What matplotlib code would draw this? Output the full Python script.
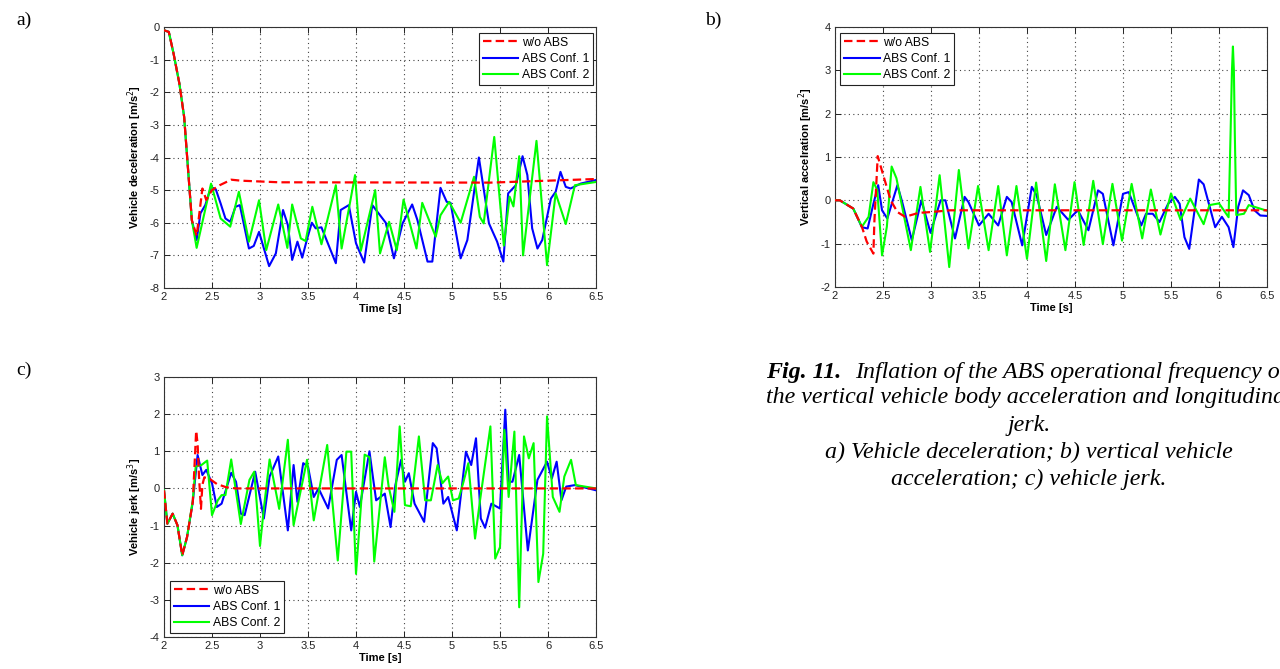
import matplotlib
matplotlib.use("Agg")
import matplotlib.pyplot as plt

plt.rcParams['font.family'] = ['Liberation Sans', 'DejaVu Sans']
plt.rcParams['axes.unicode_minus'] = False

# ---------------- data ----------------
# panel a: vehicle deceleration
ta_red = [2.0, 2.05, 2.10, 2.16, 2.21, 2.29, 2.34, 2.40, 2.44, 2.50, 2.58, 2.70, 2.80, 3.2, 5.4, 6.5]
ya_red = [-0.1, -0.15, -0.82, -1.73, -2.76, -5.92, -6.4, -4.95, -5.3, -5.0, -4.85, -4.68, -4.71, -4.76, -4.77, -4.66]

ta_blue = [2.0, 2.05, 2.10, 2.16, 2.21, 2.29, 2.34, 2.38, 2.43, 2.49, 2.54, 2.59, 2.64, 2.69, 2.745,
           2.79, 2.885, 2.935, 2.99, 3.095, 3.165, 3.24, 3.29, 3.335, 3.39, 3.44, 3.49, 3.54, 3.58, 3.64,
           3.79, 3.84, 3.925, 4.0, 4.085, 4.17, 4.31, 4.395, 4.485, 4.585, 4.64, 4.745, 4.795, 4.88, 4.945,
           4.985, 5.09, 5.16, 5.28, 5.385, 5.47, 5.535, 5.585, 5.665, 5.735, 5.785, 5.835, 5.89, 5.94, 6.03,
           6.08, 6.13, 6.185, 6.235, 6.34, 6.5]
ya_blue = [-0.1, -0.15, -0.82, -1.73, -2.76, -5.92, -6.53, -5.71, -5.46, -4.90, -4.98, -5.41, -5.87, -5.97, -5.51,
           -5.46, -6.79, -6.71, -6.28, -7.33, -6.94, -5.61, -6.07, -7.14, -6.58, -7.07, -6.5, -6.0, -6.17, -6.14,
           -7.24, -5.61, -5.46, -6.63, -7.22, -5.46, -6.0, -7.09, -6.02, -5.44, -5.92, -7.19, -7.19, -4.93, -5.36,
           -5.39, -7.09, -6.53, -4.0, -6.02, -6.58, -7.19, -5.10, -4.85, -3.96, -4.54, -6.17, -6.79, -6.53, -5.26,
           -5.05, -4.44, -4.90, -4.95, -4.80, -4.69]

ta_green = [2.0, 2.05, 2.10, 2.16, 2.21, 2.29, 2.34, 2.49, 2.59, 2.69, 2.78, 2.885, 2.99, 3.065, 3.19,
            3.285, 3.335, 3.425, 3.475, 3.545, 3.64, 3.79, 3.85, 3.99, 4.05, 4.20, 4.25, 4.345, 4.425, 4.495,
            4.63, 4.69, 4.83, 4.88, 4.97, 5.09, 5.23, 5.29, 5.33, 5.44, 5.54, 5.60, 5.64, 5.70, 5.74,
            5.88, 5.99, 6.08, 6.185, 6.28, 6.5]
ya_green = [-0.1, -0.15, -0.82, -1.73, -2.76, -5.92, -6.77, -4.80, -5.87, -6.12, -5.05, -6.58, -5.31, -6.84, -5.44,
            -6.77, -5.44, -6.48, -6.56, -5.51, -6.66, -4.85, -6.79, -4.54, -6.86, -5.0, -6.94, -5.97, -6.84, -5.29,
            -6.79, -5.39, -6.43, -5.77, -5.36, -6.0, -4.59, -5.82, -6.02, -3.37, -6.70, -5.2, -5.5, -3.96, -7.0,
            -3.49, -7.30, -5.10, -6.04, -4.85, -4.75]

# panel b: vertical acceleration
tb_red = [2.0, 2.05, 2.19, 2.28, 2.33, 2.40, 2.41, 2.445, 2.50, 2.58, 2.65, 2.73, 2.87, 3.0, 3.2, 6.5]
yb_red = [0.0, 0.0, -0.19, -0.61, -0.95, -1.23, -0.5, 1.02, 0.6, 0.0, -0.27, -0.38, -0.29, -0.27, -0.23, -0.23]

tb_blue = [2.0, 2.05, 2.19, 2.28, 2.34, 2.40, 2.45, 2.49, 2.545, 2.65, 2.70, 2.80, 2.90, 2.995, 3.10,
           3.15, 3.25, 3.35, 3.39, 3.50, 3.60, 3.70, 3.79, 3.84, 3.95, 4.05, 4.10, 4.20, 4.31, 4.43,
           4.53, 4.64, 4.74, 4.79, 4.90, 5.0, 5.06, 5.19, 5.24, 5.31, 5.38, 5.47, 5.54, 5.59, 5.64,
           5.69, 5.79, 5.84, 5.96, 6.03, 6.10, 6.15, 6.20, 6.25, 6.31, 6.37, 6.43, 6.5]
yb_blue = [0.0, 0.0, -0.19, -0.62, -0.65, -0.08, 0.35, -0.23, -0.42, 0.35, -0.04, -0.92, 0.0, -0.75, 0.0,
           0.0, -0.88, 0.08, -0.04, -0.58, -0.31, -0.58, 0.08, -0.04, -1.04, 0.31, 0.12, -0.8, -0.15, -0.45,
           -0.23, -0.69, 0.23, 0.15, -1.04, 0.15, 0.19, -0.58, -0.31, -0.31, -0.5, -0.08, 0.08, -0.08, -0.85,
           -1.12, 0.48, 0.37, -0.62, -0.38, -0.62, -1.08, -0.15, 0.23, 0.12, -0.23, -0.35, -0.36]

tb_green = [2.0, 2.05, 2.19, 2.28, 2.35, 2.40, 2.44, 2.49, 2.54, 2.59, 2.64, 2.79, 2.89, 2.99, 3.09,
            3.19, 3.29, 3.39, 3.49, 3.60, 3.70, 3.79, 3.89, 4.0, 4.095, 4.20, 4.29, 4.40, 4.495, 4.59,
            4.69, 4.79, 4.89, 4.99, 5.09, 5.20, 5.29, 5.39, 5.50, 5.60, 5.70, 5.84, 5.90, 6.0, 6.10,
            6.12, 6.135, 6.145, 6.155, 6.165, 6.18, 6.26, 6.31, 6.5]
yb_green = [0.0, 0.0, -0.19, -0.61, -0.38, 0.42, 0.24, -1.27, -0.61, 0.78, 0.51, -1.15, 0.31, -1.19, 0.58,
            -1.54, 0.70, -1.11, 0.33, -1.15, 0.33, -1.27, 0.33, -1.35, 0.41, -1.40, 0.37, -1.15, 0.42, -1.03,
            0.45, -1.01, 0.38, -0.93, 0.38, -0.88, 0.25, -0.79, 0.16, -0.45, 0.04, -0.55, -0.11, -0.07, -0.39,
            1.5, 3.0, 3.55, 3.0, 1.5, -0.34, -0.31, -0.11, -0.24]

# panel c: vehicle jerk
tc_red = [2.0, 2.035, 2.09, 2.14, 2.19, 2.24, 2.30, 2.335, 2.35, 2.365, 2.385, 2.40, 2.42, 2.48, 2.55, 2.65, 2.75, 6.5]
yc_red = [-0.05, -0.95, -0.68, -0.99, -1.80, -1.31, -0.36, 1.55, 1.2, 0.3, -0.55, 0.1, 0.3, 0.25, 0.12, 0.03, 0.0, 0.0]

tc_blue = [2.0, 2.035, 2.09, 2.14, 2.19, 2.24, 2.30, 2.35, 2.40, 2.44, 2.50, 2.55, 2.60, 2.70, 2.75,
           2.80, 2.84, 2.95, 3.04, 3.10, 3.19, 3.29, 3.35, 3.39, 3.45, 3.50, 3.56, 3.61, 3.71, 3.80,
           3.85, 3.95, 4.0, 4.04, 4.14, 4.18, 4.21, 4.30, 4.36, 4.41, 4.47, 4.51, 4.55, 4.61, 4.71,
           4.80, 4.84, 4.91, 4.96, 5.05, 5.145, 5.20, 5.25, 5.30, 5.345, 5.41, 5.50, 5.555, 5.59, 5.63,
           5.70, 5.79, 5.89, 5.99, 6.04, 6.09, 6.14, 6.19, 6.28, 6.5]
yc_blue = [-0.05, -0.95, -0.68, -0.99, -1.80, -1.31, -0.36, 0.90, 0.36, 0.50, 0.14, -0.50, -0.41, 0.42, 0.18,
           -0.68, -0.72, 0.45, -0.81, 0.32, 0.86, -1.13, 0.63, -0.36, 0.68, 0.59, -0.23, 0.0, -0.54, 0.77,
           0.90, -1.13, -0.09, -0.50, 1.0, 0.23, -0.32, -0.14, -1.04, 0.09, 0.77, 0.18, 0.41, -0.41, -0.90,
           1.22, 1.08, -0.41, -0.23, -1.13, 0.99, 0.63, 1.35, -0.81, -1.06, -0.41, -0.54, 2.12, 0.18, 0.18,
           0.90, -1.67, 0.23, 0.72, 0.27, 0.72, -0.32, 0.05, 0.09, -0.05]

tc_green = [2.0, 2.035, 2.09, 2.14, 2.19, 2.24, 2.30, 2.33, 2.39, 2.45, 2.50, 2.56, 2.60, 2.64, 2.70,
            2.80, 2.89, 2.94, 3.0, 3.04, 3.10, 3.20, 3.29, 3.35, 3.49, 3.56, 3.70, 3.81, 3.90, 3.95,
            4.0, 4.09, 4.14, 4.19, 4.30, 4.34, 4.40, 4.455, 4.51, 4.57, 4.655, 4.72, 4.78, 4.85, 4.90,
            4.96, 5.01, 5.07, 5.12, 5.17, 5.24, 5.29, 5.40, 5.45, 5.50, 5.545, 5.59, 5.65, 5.70, 5.75,
            5.80, 5.85, 5.90, 5.95, 5.99, 6.05, 6.12, 6.17, 6.24, 6.29, 6.5]
yc_green = [-0.05, -0.95, -0.68, -0.99, -1.80, -1.31, -0.32, 0.59, 0.63, 0.75, -0.72, -0.32, -0.18, -0.18, 0.78,
            -0.96, 0.23, 0.45, -1.55, -0.54, 0.78, -0.55, 1.31, -0.99, 0.77, -0.86, 1.17, -1.94, 0.99, 0.99,
            -2.30, 0.91, 0.84, -1.97, 0.84, 0.05, -0.63, 1.67, -0.45, -0.48, 1.40, -0.32, -0.32, 0.63, 0.14,
            0.32, -0.32, -0.27, 0.18, 0.68, -1.35, -0.36, 1.67, -1.89, -1.58, 1.58, -0.23, 1.53, -3.20, 1.40,
            0.81, 1.22, -2.52, -1.76, 1.94, -0.23, -0.63, 0.32, 0.77, 0.09, 0.0]

legend_labels = ['w/o ABS', 'ABS Conf. 1', 'ABS Conf. 2']
x_ticks = [2, 2.5, 3, 3.5, 4, 4.5, 5, 5.5, 6, 6.5]
x_ticklabels = ['2', '2.5', '3', '3.5', '4', '4.5', '5', '5.5', '6', '6.5']

ylabels = ['Vehicle deceleration [m/s$^2$]', 'Vertical accelration [m/s$^2$]', 'Vehicle jerk [m/s$^3$]']
yranges = [(-8, 0), (-2, 4), (-4, 3)]
panel_letters = ['a)', 'b)', 'c)']
caption_head = 'Fig. 11.'
caption_first = 'Inflation of the ABS operational frequency on'
caption_lines = ['the vertical vehicle body acceleration and longitudinal',
                 'jerk.',
                 'a) Vehicle deceleration; b) vertical vehicle',
                 'acceleration; c) vehicle jerk.']

# ---------------- figure ----------------
fig = plt.figure(figsize=(12.8, 6.69), dpi=100)
W, H = 1280, 669


def rect(l, t, r, b):
    return [l / W, 1 - b / H, (r - l) / W, (b - t) / H]


axa = fig.add_axes(rect(164, 27, 596, 288))
axb = fig.add_axes(rect(835, 27, 1267, 287))
axc = fig.add_axes(rect(164, 377, 596, 637))

RED, BLUE, GREEN = '#ff0000', '#0000ff', '#00ff00'

series = [
    (axa, (ta_red, ya_red), (ta_blue, ya_blue), (ta_green, ya_green)),
    (axb, (tb_red, yb_red), (tb_blue, yb_blue), (tb_green, yb_green)),
    (axc, (tc_red, yc_red), (tc_blue, yc_blue), (tc_green, yc_green)),
]

legend_cfg = [
    dict(loc='upper right', bbox_to_anchor=(0.993, 0.978)),
    dict(loc='upper left', bbox_to_anchor=(0.012, 0.978)),
    dict(loc='lower left', bbox_to_anchor=(0.014, 0.015)),
]

for i, (ax, r, b, g) in enumerate(series):
    hb, = ax.plot(b[0], b[1], color=BLUE, lw=1.5, zorder=3)
    hg, = ax.plot(g[0], g[1], color=GREEN, lw=1.5, zorder=4)
    hr, = ax.plot(r[0], r[1], color=RED, lw=1.6, dashes=(3.8, 1.9), zorder=5)
    ax.set_xlim(2, 6.5)
    ax.set_ylim(*yranges[i])
    ax.set_xticks(x_ticks)
    ax.set_xticklabels(x_ticklabels)
    lo, hi = yranges[i]
    yt = list(range(lo, hi + 1))
    ax.set_yticks(yt)
    ax.set_yticklabels([str(v) for v in yt])
    ax.grid(True, linestyle=(0, (1, 3)), color='#444444', linewidth=0.8)
    ax.tick_params(direction='in', length=4, width=0.7, top=True, right=True,
                   labelsize=8, colors='#222222', pad=3)
    for s in ax.spines.values():
        s.set_linewidth(0.8)
        s.set_color('#333333')
    ax.set_xlabel('Time [s]', fontsize=8, fontweight='bold', labelpad=1)
    ax.set_ylabel(ylabels[i], fontsize=8, fontweight='bold', labelpad=4)
    leg = ax.legend([hr, hb, hg], legend_labels, fontsize=8.8, frameon=True, fancybox=False,
                    edgecolor='#222222', framealpha=1, handlelength=2.9, handletextpad=0.3,
                    labelspacing=0.35, borderpad=0.32, borderaxespad=0, **legend_cfg[i])
    leg.get_frame().set_linewidth(0.8)

serif = ['Liberation Serif', 'DejaVu Serif']
fig.text(24 / W, 1 - 20 / H, panel_letters[0], fontsize=14, family=serif, ha='center', va='center')
fig.text(713 / W, 1 - 20 / H, panel_letters[1], fontsize=14, family=serif, ha='center', va='center')
fig.text(24 / W, 1 - 370 / H, panel_letters[2], fontsize=14, family=serif, ha='center', va='center')

cx_px = 1029
cap_fs = 17.3
renderer = fig.canvas.get_renderer()
y1 = 1 - 372 / H
t_head = fig.text(0, y1, caption_head, fontsize=cap_fs, family=serif, style='italic',
                  weight='bold', ha='left', va='center')
t_rest = fig.text(0, y1, caption_first, fontsize=cap_fs, family=serif, style='italic',
                  ha='left', va='center')
w_head = t_head.get_window_extent(renderer).width
w_rest = t_rest.get_window_extent(renderer).width
gap = 13
total = w_head + gap + w_rest
x0 = cx_px - total / 2
t_head.set_x(x0 / W)
t_rest.set_x((x0 + w_head + gap) / W)

caption_y = [398, 425, 452, 479]
for txt, yy in zip(caption_lines, caption_y):
    fig.text(cx_px / W, 1 - yy / H, txt, fontsize=cap_fs, family=serif, style='italic',
             ha='center', va='center')

fig.savefig('out.png', dpi=100)
